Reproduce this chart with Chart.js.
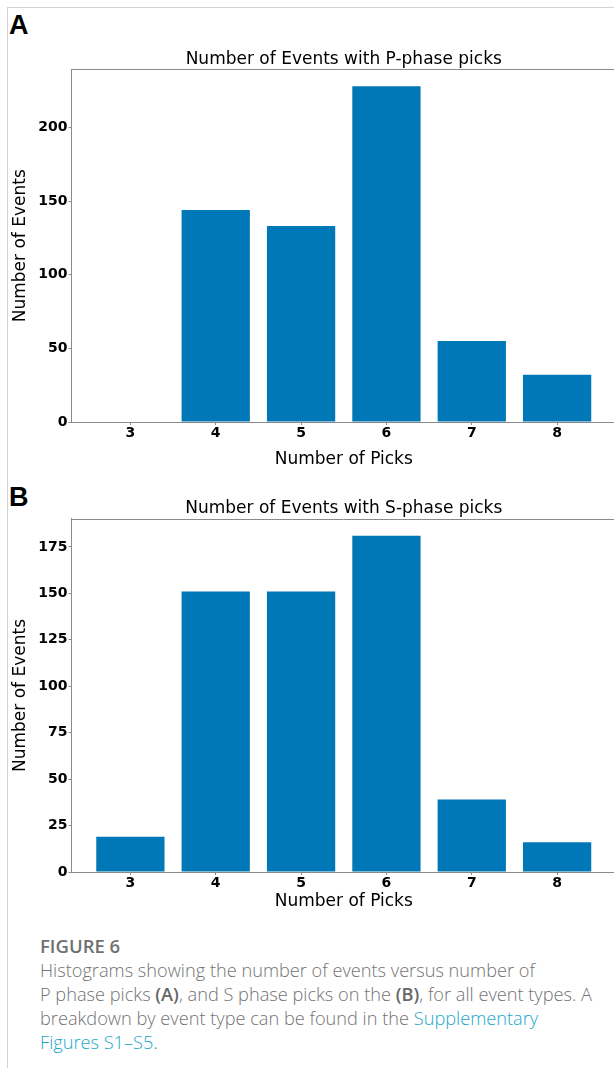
<!DOCTYPE html>
<html>
<head>
<meta charset="utf-8">
<script src="https://cdn.jsdelivr.net/npm/chart.js@4.4.1/dist/chart.umd.min.js"></script>
<style>
    body { margin: 0; width: 614px; height: 1073px; overflow: hidden; background: #fff; position: relative; }
    .frame-top { position: absolute; left: 7px; top: 7px; width: 607px; height: 1px; background: #d2d2d2; }
    .frame-left { position: absolute; left: 7px; top: 7px; width: 1px; height: 1061px; background: #d2d2d2; }
    .panel { position: absolute; left: 9px; font: bold 27px "Liberation Sans", Arial, sans-serif; color: #000; line-height: 30px; }
    canvas { position: absolute; left: 0; }
    .caption { position: absolute; left: 40px; top: 934px; font-family: "Open Sans", Lato, sans-serif; font-weight: 300; color: #737373; font-size: 18.2px; line-height: 24px; white-space: nowrap; }
    .caption .fig { font-weight: 600; font-size: 18.5px; color: #707070; }
    .caption b { color: #666; font-weight: 600; }
    .caption .link { color: #1ba8c8; }
</style>
</head>
<body>
<div class="frame-top"></div>
<div class="frame-left"></div>

<div class="panel" style="top:10px">A</div>
<canvas id="chartP" width="688" height="440" style="top:30px"></canvas>

<div class="panel" style="top:482px">B</div>
<canvas id="chartS" width="688" height="432" style="top:480px"></canvas>

<div class="caption">
    <div class="fig">FIGURE 6</div>
    <div>Histograms showing the number of events versus number of</div>
    <div>P phase picks <b>(A)</b>, and S phase picks on the <b>(B)</b>, for all event types. A</div>
    <div>breakdown by event type can be found in the <span class="link">Supplementary</span></div>
    <div><span class="link">Figures S1–S5</span>.</div>
</div>

<script>
const picks = [3, 4, 5, 6, 7, 8];
const pPhaseEvents = [0, 144, 133, 228, 55, 32];
const sPhaseEvents = [19, 151, 151, 181, 39, 16];
const pTicks = [0, 50, 100, 150, 200];
const sTicks = [0, 25, 50, 75, 100, 125, 150, 175];

const barColor = '#0077b6';
const axisColor = '#8a8a8a';

// top (and right) spine round the plot area
const frameSpines = {
    id: 'frameSpines',
    afterDraw(chart){
        const {ctx, chartArea} = chart;
        ctx.save();
        ctx.strokeStyle = axisColor;
        ctx.lineWidth = 1;
        ctx.beginPath();
        ctx.moveTo(chartArea.left, Math.round(chartArea.top) + 0.5);
        ctx.lineTo(chartArea.right, Math.round(chartArea.top) + 0.5);
        ctx.lineTo(chartArea.right, chartArea.bottom);
        ctx.stroke();
        ctx.restore();
    }
};

function makeHistogram(canvasId, title, values, yTicks, titlePad, xAxisHeight){
    const ctx = document.getElementById(canvasId).getContext('2d');
    return new Chart(ctx, {
        type: 'bar',
        data: {
            datasets: [{
                data: picks.map((p, i) => ({x: p, y: values[i]})),
                backgroundColor: barColor,
                borderWidth: 0,
                barPercentage: 0.8,
                categoryPercentage: 1
            }]
        },
        options: {
            responsive: false,
            animation: false,
            layout: {padding: {left: 0, right: 72, top: 0, bottom: 0}},
            plugins: {
                legend: {display: false},
                tooltip: {enabled: false},
                title: {
                    display: true,
                    fullSize: false,
                    text: title,
                    color: '#000',
                    font: {family: 'DejaVu Sans', size: 17, weight: 'normal'},
                    padding: {top: titlePad, bottom: 0}
                }
            },
            scales: {
                x: {
                    type: 'linear',
                    offset: false,
                    min: 2.31,
                    max: 8.69,
                    afterBuildTicks: s => { s.ticks = picks.map(v => ({value: v})); },
                    afterFit: s => { s.height = xAxisHeight; },
                    grid: {drawOnChartArea: false, offset: false, tickLength: 3, color: axisColor},
                    border: {color: axisColor},
                    ticks: {color: '#000', padding: 0, font: {family: 'DejaVu Sans', size: 14, weight: 'bold'}},
                    title: {
                        display: true,
                        text: 'Number of Picks',
                        color: '#000',
                        font: {family: 'DejaVu Sans', size: 17, weight: 'normal'},
                        padding: {top: 0, bottom: 0}
                    }
                },
                y: {
                    min: 0,
                    max: Math.max(...values) * 1.05,
                    afterBuildTicks: s => { s.ticks = yTicks.map(v => ({value: v})); },
                    afterFit: s => { s.width = 71.5; },
                    grid: {drawOnChartArea: false, tickLength: 3, color: axisColor},
                    border: {color: axisColor},
                    ticks: {color: '#000', padding: 1, font: {family: 'DejaVu Sans', size: 14, weight: 'bold'}},
                    title: {
                        display: true,
                        text: 'Number of Events',
                        color: '#000',
                        font: {family: 'DejaVu Sans', size: 17, weight: 'normal'},
                        padding: {top: 10, bottom: 0}
                    }
                }
            }
        },
        plugins: [frameSpines]
    });
}

makeHistogram('chartP', 'Number of Events with P-phase picks', pPhaseEvents, pTicks, 19, 48);
makeHistogram('chartS', 'Number of Events with S-phase picks', sPhaseEvents, sTicks, 18.5, 40);
</script>
</body>
</html>
